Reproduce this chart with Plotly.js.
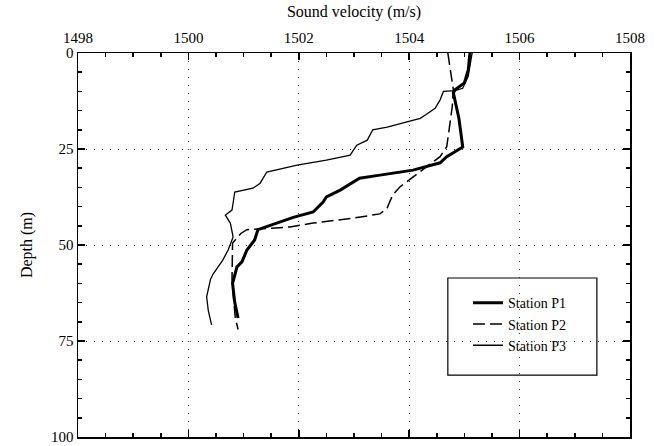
<!DOCTYPE html>
<html>
<head>
<meta charset="utf-8">
<script src="https://cdn.plot.ly/plotly-3.0.1.min.js"></script>
<style>html,body{margin:0;padding:0;background:#fff;}#chart{width:661px;height:446px;}</style>
</head>
<body>
<div id="chart"></div>
<script>
const seriesNames = ["Station P1", "Station P2", "Station P3"];

const p1Velocity = [1505.1,1505.07,1505.0,1504.83,1504.8,1504.9,1504.97,1504.68,1504.56,1504.07,1503.47,1503.1,1502.75,1502.5,1502.44,1502.26,1501.9,1501.6,1501.35,1501.26,1501.2,1501.06,1500.97,1500.88,1500.8,1500.84,1500.9];
const p1Depth    = [0,4.4,7.8,9.6,10.4,17,24.5,27,28.6,30.5,31.8,32.6,35.7,37.5,38.8,41.4,42.8,44.3,45.6,46,48.7,51.3,54.4,55.7,60,65,69];

const p2Velocity = [1504.7,1504.8,1504.78,1504.7,1504.68,1504.56,1504.07,1503.83,1503.7,1503.6,1503.47,1502.98,1502.26,1501.84,1501.06,1500.95,1500.8,1500.79,1500.79,1500.82,1500.85,1500.9];
const p2Depth    = [0,9.6,14,21.9,24.4,27,32.3,34.9,37,40.4,41.9,43,44.3,45.3,46,47,49.5,54.7,59,64.3,69,72];

const p3Velocity = [1505.14,1505.07,1504.97,1504.83,1504.62,1504.56,1504.47,1504.38,1504.3,1504.2,1503.96,1503.6,1503.34,1503.24,1503.05,1502.93,1502.5,1501.97,1501.42,1501.3,1501.17,1500.84,1500.79,1500.67,1500.76,1500.81,1500.72,1500.62,1500.45,1500.4,1500.33,1500.36,1500.42];
const p3Depth    = [0,6,9.2,9.8,10,12.2,14.4,15.4,16.1,17,18,19.3,20,22.7,24,26.6,27.9,29.2,31,33.9,35.2,36.2,40.9,42.2,44.3,47.9,51.3,54,57.5,59,63.5,67,70.8];

const xRange = [1498, 1508];
const yRange = [100, 0];
const xTitle = "Sound velocity (m/s)";
const yTitle = "Depth (m)";

const font = "'Times New Roman', 'Liberation Serif', Tinos, serif";

const traces = [
  {x: p1Velocity, y: p1Depth, name: seriesNames[0], mode: "lines", line: {color: "#000", width: 3}},
  {x: p2Velocity, y: p2Depth, name: seriesNames[1], mode: "lines", line: {color: "#000", width: 1.5, dash: "12px,5px"}},
  {x: p3Velocity, y: p3Depth, name: seriesNames[2], mode: "lines", line: {color: "#000", width: 1.3}},
  {x: [], y: [], xaxis: "x2", yaxis: "y2", mode: "lines", showlegend: false, hoverinfo: "skip"}
];

const tickBase = {ticks: "inside", ticklen: 7, tickwidth: 1.5, tickcolor: "#000", zeroline: false};

const layout = {
  width: 661, height: 446,
  margin: {l: 78, r: 31, t: 53, b: 9},
  paper_bgcolor: "#fff", plot_bgcolor: "#fff",
  font: {family: font, size: 15, color: "#000"},
  showlegend: true,
  legend: {
    x: 0.7065, y: 0.39, xanchor: "left", yanchor: "top",
    borderwidth: 0, bgcolor: "rgba(0,0,0,0)",
    font: {family: font, size: 14, color: "#000"},
    tracegroupgap: 0, itemwidth: 30
  },
  shapes: [
    {type: "rect", xref: "paper", yref: "paper", x0: 0.670, x1: 0.940, y0: 0.161, y1: 0.414,
     line: {color: "#000", width: 1.2}, fillcolor: "#fff", layer: "below"}
  ],
  xaxis: Object.assign({}, tickBase, {
    side: "top", range: xRange, dtick: 2, tick0: 1498,
    showline: true, linecolor: "#000", linewidth: 1.5, mirror: "allticks",
    showgrid: true, gridcolor: "#333", gridwidth: 1, griddash: "1px,7px",
    minor: {dtick: 0.5, ticks: "inside", ticklen: 4, tickcolor: "#000", showgrid: false},
    ticklabelstandoff: 3,
    title: {text: xTitle, font: {family: font, size: 16}, standoff: 8},
    tickfont: {family: font, size: 15}
  }),
  xaxis2: Object.assign({}, tickBase, {
    overlaying: "x", anchor: "y", side: "bottom", range: xRange, dtick: 2, tick0: 1498,
    showticklabels: false, showgrid: false, showline: false,
    minor: {dtick: 0.5, ticks: "inside", ticklen: 4, tickcolor: "#000", showgrid: false}
  }),
  yaxis: Object.assign({}, tickBase, {
    range: yRange, dtick: 25, tick0: 0,
    showline: true, linecolor: "#000", linewidth: 1.5, mirror: "allticks",
    showgrid: true, gridcolor: "#333", gridwidth: 1, griddash: "1px,7px",
    minor: {dtick: 5, ticks: "inside", ticklen: 4, tickcolor: "#000", showgrid: false},
    title: {text: yTitle, font: {family: font, size: 16}, standoff: 14},
    tickfont: {family: font, size: 15}
  }),
  yaxis2: Object.assign({}, tickBase, {
    overlaying: "y", anchor: "x", side: "right", range: yRange, dtick: 25, tick0: 0,
    showticklabels: false, showgrid: false, showline: false,
    minor: {dtick: 5, ticks: "inside", ticklen: 4, tickcolor: "#000", showgrid: false}
  })
};

Plotly.newPlot("chart", traces, layout, {displayModeBar: false, staticPlot: true});
</script>
</body>
</html>
